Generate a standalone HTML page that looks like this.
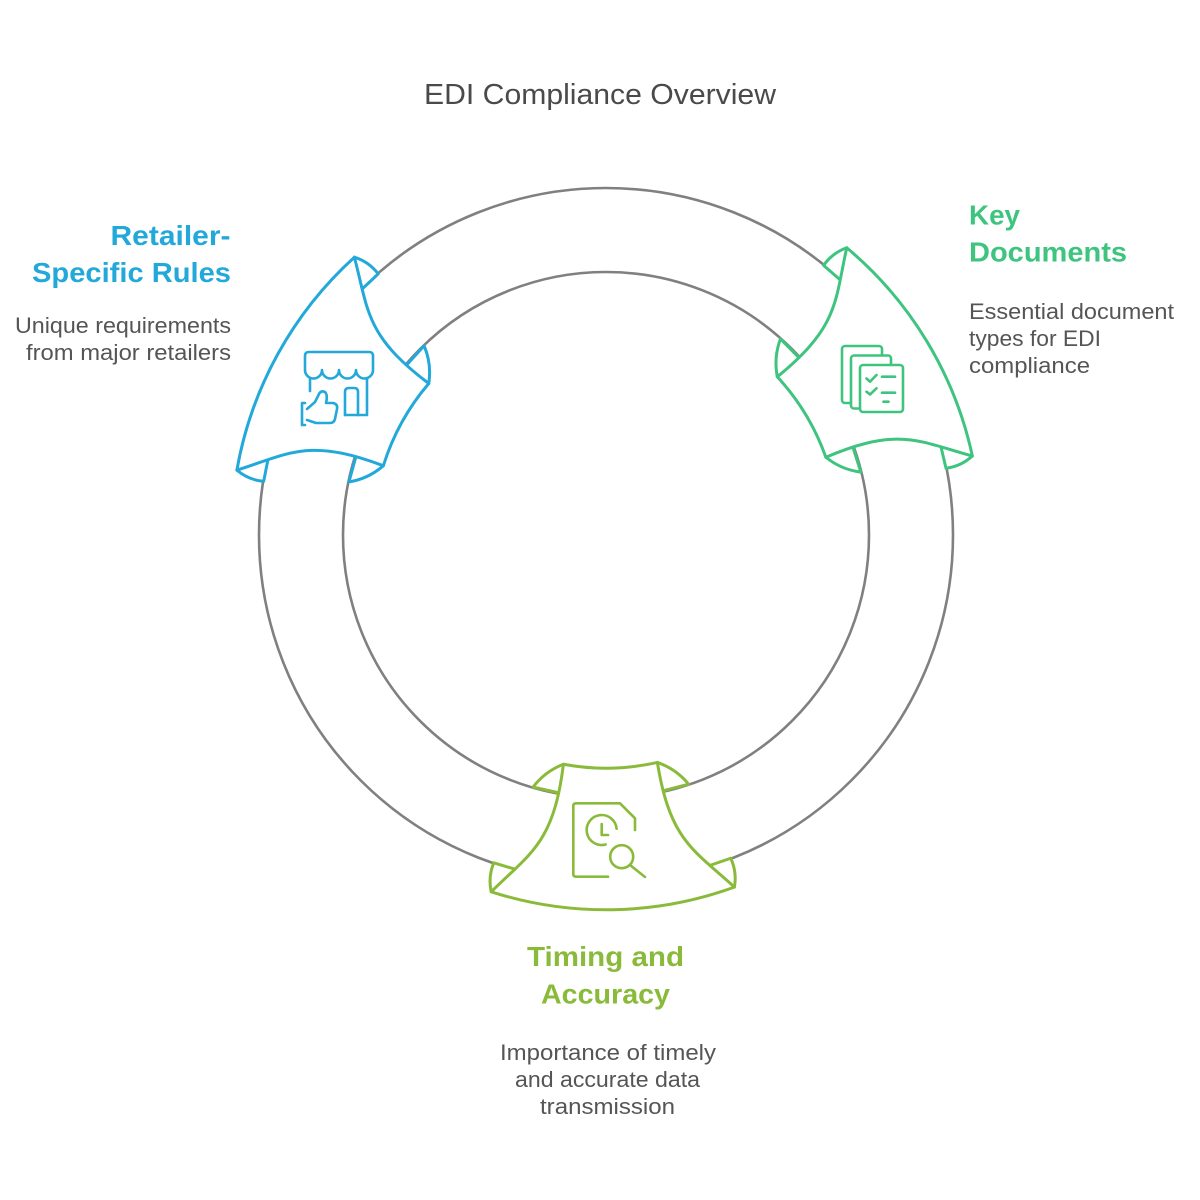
<!DOCTYPE html>
<html>
<head>
<meta charset="utf-8">
<style>
  html, body { margin: 0; padding: 0; background: #ffffff; }
  svg { display: block; }
  .ttl { font-family: "Liberation Sans", Arial, sans-serif; font-size: 29px; fill: #4a4a4a; }
  .hd { font-family: "Liberation Sans", Arial, sans-serif; font-size: 28px; font-weight: bold; }
  .ds { font-family: "Liberation Sans", Arial, sans-serif; font-size: 22px; fill: #555555; }
</style>
</head>
<body>
<svg width="1200" height="1200" viewBox="0 0 1200 1200" xmlns="http://www.w3.org/2000/svg">
  <rect x="0" y="0" width="1200" height="1200" fill="#ffffff"/>

  <!-- Title -->
  <text class="ttl" x="424" y="104" textLength="352" lengthAdjust="spacingAndGlyphs">EDI Compliance Overview</text>

  <!-- Ring -->
  <circle cx="606" cy="535" r="347" fill="none" stroke="#808080" stroke-width="2.6"/>
  <circle cx="606" cy="535" r="263" fill="none" stroke="#808080" stroke-width="2.6"/>

  <!-- Bottom (lime) -->
  <g transform="rotate(-1.1 606 535)" stroke="#8aba3a" stroke-width="3" fill="#ffffff" stroke-linejoin="round" stroke-linecap="round">
    <path d="M552.5,791.5 L528.2,785.7 Q540.4,770.2 559,763.4"/>
    <path d="M659.5,791.5 L683.8,785.7 Q671.6,770.2 653,763.4"/>
    <path d="M508.3,867.3 L487.5,860.6 Q481.4,874.6 484.4,889.5"/>
    <path d="M703.7,867.3 L724.5,860.6 Q730.6,874.6 727.6,889.5"/>
    <path d="M559,763.4 A233.2,233.2 0 0 0 653,763.4 C664.2,842.1 687.5,851.3 727.6,889.5 A374.8,374.8 0 0 1 484.4,889.5 C524.5,851.3 547.8,842.1 559,763.4 Z"/>
  </g>

  <!-- Upper-left (blue) -->
  <g transform="rotate(118.9 606 535)" stroke="#23a8da" stroke-width="3" fill="#ffffff" stroke-linejoin="round" stroke-linecap="round">
    <path d="M552.5,791.5 L528.2,785.7 Q540.4,770.2 559,763.4"/>
    <path d="M659.5,791.5 L683.8,785.7 Q671.6,770.2 653,763.4"/>
    <path d="M508.3,867.3 L487.5,860.6 Q481.4,874.6 484.4,889.5"/>
    <path d="M703.7,867.3 L724.5,860.6 Q730.6,874.6 727.6,889.5"/>
    <path d="M559,763.4 A233.2,233.2 0 0 0 653,763.4 C664.2,842.1 687.5,851.3 727.6,889.5 A374.8,374.8 0 0 1 484.4,889.5 C524.5,851.3 547.8,842.1 559,763.4 Z"/>
  </g>

  <!-- Upper-right (green) -->
  <g transform="rotate(238.9 606 535)" stroke="#3ec47f" stroke-width="3" fill="#ffffff" stroke-linejoin="round" stroke-linecap="round">
    <path d="M552.5,791.5 L528.2,785.7 Q540.4,770.2 559,763.4"/>
    <path d="M659.5,791.5 L683.8,785.7 Q671.6,770.2 653,763.4"/>
    <path d="M508.3,867.3 L487.5,860.6 Q481.4,874.6 484.4,889.5"/>
    <path d="M703.7,867.3 L724.5,860.6 Q730.6,874.6 727.6,889.5"/>
    <path d="M559,763.4 A233.2,233.2 0 0 0 653,763.4 C664.2,842.1 687.5,851.3 727.6,889.5 A374.8,374.8 0 0 1 484.4,889.5 C524.5,851.3 547.8,842.1 559,763.4 Z"/>
  </g>

  <!-- Store icon (blue) -->
  <g fill="none" stroke="#23a8da" stroke-width="2.6" stroke-linejoin="round" stroke-linecap="round">
    <path d="M305,370 V356 Q305,352 309,352 H369 Q373,352 373,356 V370 A8.5 8.5 0 0 1 356,370 A8.5 8.5 0 0 1 339,370 A8.5 8.5 0 0 1 322,370 A8.5 8.5 0 0 1 305,370 Z"/>
    <path d="M310,378 V391"/>
    <path d="M367,378 V415 H345"/>
    <path d="M345,415 V392 Q345,388 349,388 H354 Q358,388 358,392 V415"/>
    <path d="M305,403 H302 V425 H305"/>
    <path d="M307,409 L315,402 L319,394 Q321,390 325,392 Q328,395 326,403 H333 Q338,404 337,409 L335,419 Q334,423 330,423 H316 L307,420"/>
  </g>

  <!-- Documents icon (green) -->
  <g fill="#ffffff" stroke="#3ec47f" stroke-width="2.6" stroke-linejoin="round" stroke-linecap="round">
    <rect x="842" y="346" width="40" height="57" rx="3"/>
    <rect x="851" y="355.5" width="40" height="53" rx="3"/>
    <rect x="860" y="365" width="43" height="47" rx="3"/>
    <path fill="none" d="M866.5,378.5 L870,381.7 L876.5,375"/>
    <path fill="none" d="M866.5,391.7 L870,394.5 L876.5,388.3"/>
    <path fill="none" d="M882,376.7 H895 M882,392.7 H895 M883.5,401.7 H888.5"/>
  </g>

  <!-- Clock / search icon (lime) -->
  <g fill="none" stroke="#8aba3a" stroke-width="2.6" stroke-linejoin="round" stroke-linecap="round">
    <path d="M608,876.7 H576 Q573.3,876.7 573.3,874 V806 Q573.3,803.3 576,803.3 H620 L635,818.3 V830"/>
    <path d="M616.6,828.7 A15 15 0 1 0 605.6,844.5"/>
    <path d="M601.7,824 V835 H608"/>
    <circle cx="621.7" cy="856.7" r="11.5"/>
    <path d="M630,865 L645,877"/>
  </g>

  <!-- Retailer-Specific Rules -->
  <text class="hd" fill="#23a8da" x="110.5" y="245" textLength="120" lengthAdjust="spacingAndGlyphs">Retailer-</text>
  <text class="hd" fill="#23a8da" x="32" y="282" textLength="199" lengthAdjust="spacingAndGlyphs">Specific Rules</text>
  <text class="ds" x="15" y="333" textLength="216" lengthAdjust="spacingAndGlyphs">Unique requirements</text>
  <text class="ds" x="26" y="360" textLength="205" lengthAdjust="spacingAndGlyphs">from major retailers</text>

  <!-- Key Documents -->
  <text class="hd" fill="#3ec47f" x="969" y="224.5" textLength="51" lengthAdjust="spacingAndGlyphs">Key</text>
  <text class="hd" fill="#3ec47f" x="969" y="261.5" textLength="158" lengthAdjust="spacingAndGlyphs">Documents</text>
  <text class="ds" x="969" y="319" textLength="205" lengthAdjust="spacingAndGlyphs">Essential document</text>
  <text class="ds" x="969" y="346" textLength="132" lengthAdjust="spacingAndGlyphs">types for EDI</text>
  <text class="ds" x="969" y="373" textLength="121" lengthAdjust="spacingAndGlyphs">compliance</text>

  <!-- Timing and Accuracy -->
  <text class="hd" fill="#8aba3a" x="527" y="966" textLength="157" lengthAdjust="spacingAndGlyphs">Timing and</text>
  <text class="hd" fill="#8aba3a" x="541" y="1003.5" textLength="129" lengthAdjust="spacingAndGlyphs">Accuracy</text>
  <text class="ds" x="500" y="1060" textLength="216" lengthAdjust="spacingAndGlyphs">Importance of timely</text>
  <text class="ds" x="515" y="1087" textLength="185" lengthAdjust="spacingAndGlyphs">and accurate data</text>
  <text class="ds" x="540" y="1114" textLength="135" lengthAdjust="spacingAndGlyphs">transmission</text>
</svg>
</body>
</html>
